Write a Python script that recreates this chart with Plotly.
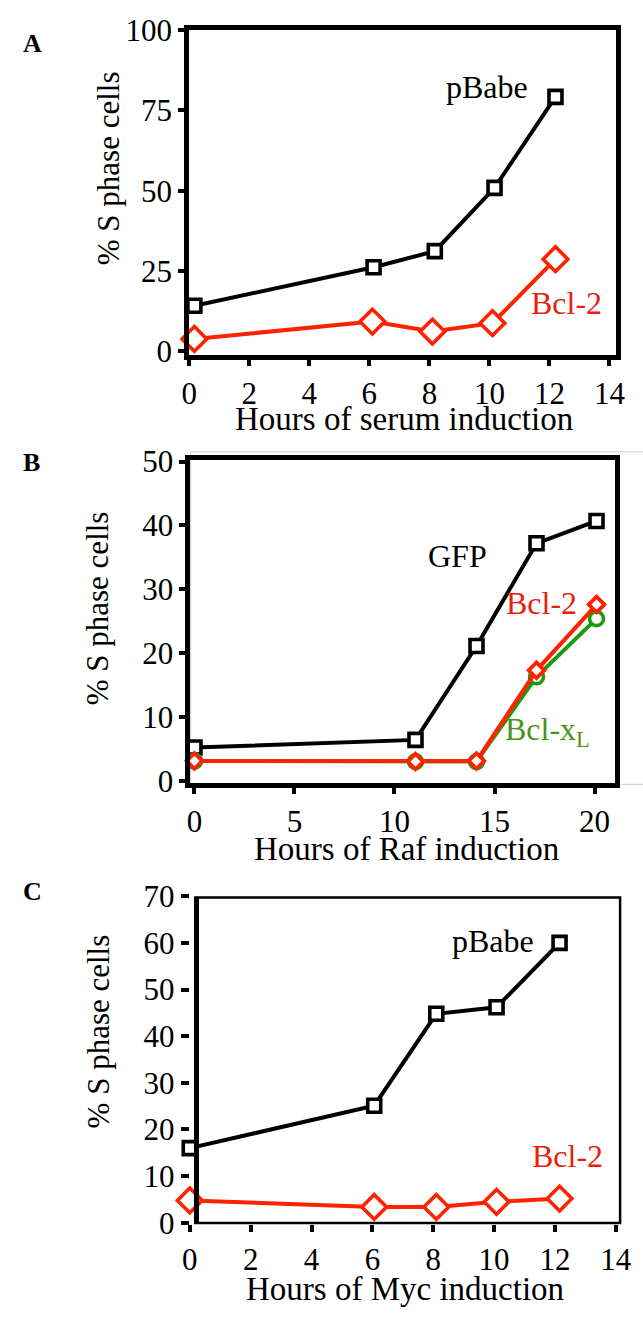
import plotly.graph_objects as go

W, H = 643, 1321
FONT = "Liberation Serif, Times New Roman, serif"
RED_LINE = "#ff2200"
RED_TEXT = "#e8200c"
GREEN_LINE = "#1e9a10"
GREEN_TEXT = "#4b9418"

# ---------------- data ----------------
# Panel A: serum induction
a_hours_pbabe = [0.17, 6.14, 8.18, 10.17, 12.2]
a_pbabe = [14.2, 26.2, 31.2, 50.9, 79.2]
a_hours_bcl2 = [0.17, 6.1, 8.1, 10.1, 12.2]
a_bcl2 = [3.9, 9.3, 6.2, 8.8, 28.7]
a_xticks = [0, 2, 4, 6, 8, 10, 12, 14]
a_yticks = [0, 25, 50, 75, 100]

# Panel B: Raf induction
b_hours = [0.0, 11.05, 14.1, 17.1, 20.1]
b_gfp = [5.2, 6.4, 21.1, 37.2, 40.7]
b_bcl2 = [3.1, 3.0, 3.1, 17.3, 27.6]
b_bclxl = [3.1, 3.0, 3.0, 16.3, 25.4]
b_xticks = [0, 5, 10, 15, 20]
b_yticks = [0, 10, 20, 30, 40, 50]

# Panel C: Myc induction
c_hours = [0.0, 6.06, 8.1, 10.08, 12.15]
c_pbabe = [16.0, 25.1, 44.8, 46.2, 60.0]
c_bcl2 = [4.8, 3.4, 3.4, 4.5, 5.2]
c_xticks = [0, 2, 4, 6, 8, 10, 12, 14]
c_yticks = [0, 10, 20, 30, 40, 50, 60, 70]


def fx(px):
    return px / W


def fy(py):
    return 1 - py / H


fig = go.Figure()

sq = dict(symbol="square", size=13, color="white", line=dict(color="black", width=3.6))
dia = dict(symbol="diamond", size=19, color="white", line=dict(color=RED_LINE, width=3.6))

# Panel A
fig.add_trace(go.Scatter(x=a_hours_pbabe, y=a_pbabe, mode="lines+markers", xaxis="x", yaxis="y",
                         line=dict(color="black", width=4), marker=sq, cliponaxis=False))
fig.add_trace(go.Scatter(x=a_hours_bcl2, y=a_bcl2, mode="lines+markers", xaxis="x", yaxis="y",
                         line=dict(color=RED_LINE, width=4), marker=dia, cliponaxis=False))

# Panel B
fig.add_trace(go.Scatter(x=b_hours, y=b_gfp, mode="lines+markers", xaxis="x2", yaxis="y2",
                         line=dict(color="black", width=4), marker=sq, cliponaxis=False))
fig.add_trace(go.Scatter(x=b_hours, y=b_bclxl, mode="lines+markers", xaxis="x2", yaxis="y2",
                         line=dict(color=GREEN_LINE, width=4),
                         marker=dict(symbol="circle", size=14, color="white",
                                     line=dict(color=GREEN_LINE, width=3.6)), cliponaxis=False))
fig.add_trace(go.Scatter(x=b_hours, y=b_bcl2, mode="lines+markers", xaxis="x2", yaxis="y2",
                         line=dict(color=RED_LINE, width=4),
                         marker=dict(symbol="diamond", size=12, color="white",
                                     line=dict(color=RED_LINE, width=3.8)), cliponaxis=False))

# Panel C
fig.add_trace(go.Scatter(x=c_hours, y=c_pbabe, mode="lines+markers", xaxis="x3", yaxis="y3",
                         line=dict(color="black", width=4), marker=sq, cliponaxis=False))
fig.add_trace(go.Scatter(x=c_hours, y=c_bcl2, mode="lines+markers", xaxis="x3", yaxis="y3",
                         line=dict(color=RED_LINE, width=4), marker=dia, cliponaxis=False))

tickfont = dict(family=FONT, size=31, color="black")
common_ax = dict(showgrid=False, zeroline=False, ticks="outside", tickwidth=4, tickcolor="black",
                 tickfont=tickfont, fixedrange=True)

layout = dict(
    width=W, height=H, margin=dict(l=0, r=0, t=0, b=0),
    paper_bgcolor="white", plot_bgcolor="white", showlegend=False,
    font=dict(family=FONT, color="black"),
    # Panel A
    xaxis=dict(common_ax, domain=[fx(186.5), fx(625)], range=[0, 14.2], tickvals=a_xticks,
               showline=True, linewidth=5, linecolor="black", mirror=True, ticklen=6,
               anchor="y"),
    yaxis=dict(common_ax, domain=[fy(347), fy(13.3)], range=[-1.2, 100], tickvals=a_yticks,
               showline=True, linewidth=5, linecolor="black", mirror=True, ticklen=6,
               anchor="x"),
    # Panel B
    xaxis2=dict(common_ax, domain=[fx(187.7), fx(624)], range=[-0.2, 21.0], tickvals=b_xticks,
                showline=True, linewidth=5, linecolor="black", mirror=True, ticklen=6,
                anchor="y2"),
    yaxis2=dict(common_ax, domain=[fy(786), fy(454)], range=[-0.41, 50.3], tickvals=b_yticks,
                showline=True, linewidth=5, linecolor="black", mirror=True, ticklen=6,
                anchor="x2"),
    # Panel C
    xaxis3=dict(common_ax, domain=[fx(187), fx(631)], range=[0, 14.18], tickvals=c_xticks,
                showline=False, ticklen=7, anchor="y3"),
    yaxis3=dict(common_ax, domain=[fy(1238.3), fy(901.7)], range=[-0.33, 70], tickvals=c_yticks,
                showline=False, ticklen=8, anchor="x3"),
)
fig.update_layout(**layout)

shapes = [
    # faint scan border around panel B
    dict(type="rect", xref="paper", yref="paper", x0=fx(188), x1=fx(700), y0=fy(787), y1=fy(446),
         line=dict(color="#cfcfcf", width=1), layer="below"),
    # panel C frame (offset from the tick axis)
    dict(type="rect", xref="x3", yref="y3", x0=0.22, x1=14.18, y0=-0.33, y1=70,
         line=dict(color="black", width=5), layer="above"),
]
fig.update_layout(shapes=shapes)

ann = []


def text(s, px, py, size=32, color="black", bold=False, angle=0, xanchor="center"):
    ann.append(dict(text=("<b>%s</b>" % s) if bold else s, x=fx(px), y=fy(py), xref="paper",
                    yref="paper", showarrow=False, xanchor=xanchor, yanchor="middle",
                    textangle=angle, font=dict(family=FONT, size=size, color=color)))


# panel letters
text("A", 25, 27, size=26, bold=True)
text("B", 24, 457, size=26, bold=True)
text("C", 25, 897, size=26, bold=True)

# y titles
text("% S phase cells", 103, 155, size=31, angle=-90)
text("% S phase cells", 92, 606, size=31, angle=-90)
text("% S phase cells", 93, 1040, size=31, angle=-90)

# x titles
text("Hours of serum induction", 407, 412, size=33)
text("Hours of Raf induction", 410, 853, size=33)
text("Hours of Myc induction", 408, 1305, size=33)

# series labels
text("pBabe", 493, 72, size=32)
text("Bcl-2", 575, 293, size=32, color=RED_TEXT)
text("GFP", 462, 553, size=32)
text("Bcl-2", 549, 601, size=32, color=RED_TEXT)
text("Bcl-x<sub>L</sub>", 509, 733, size=32, color=GREEN_TEXT, xanchor="left")
text("pBabe", 499, 948, size=32)
text("Bcl-2", 576, 1168, size=32, color=RED_TEXT)

fig.update_layout(annotations=ann)

fig.write_html("out.html")
